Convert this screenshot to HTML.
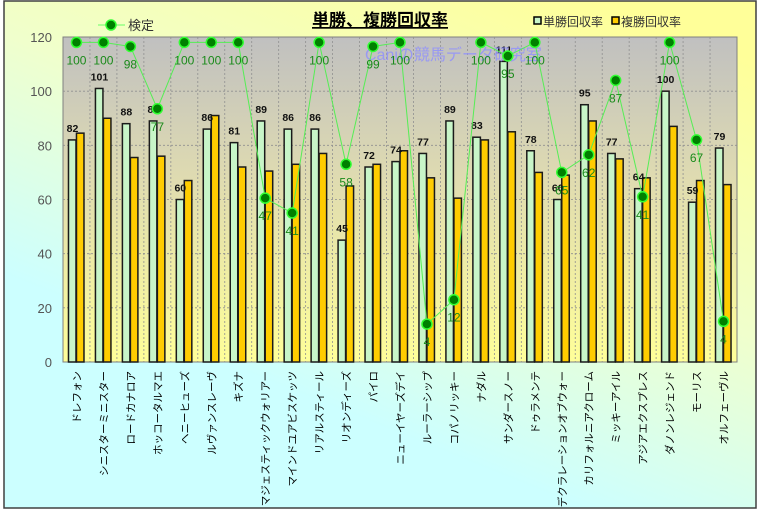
<!DOCTYPE html>
<html><head><meta charset="utf-8"><style>
html,body{margin:0;padding:0;width:759px;height:509px;overflow:hidden;background:#fff}
svg{display:block}
text{font-family:"Liberation Sans","Noto Sans CJK JP",sans-serif}
</style></head><body>
<svg id="s" width="759" height="509" xmlns="http://www.w3.org/2000/svg">
<defs>
<linearGradient id="bg" x1="0.8" y1="0" x2="0.2" y2="1">
<stop offset="0" stop-color="#ffff99"/><stop offset="0.4" stop-color="#f0ffcc"/><stop offset="0.75" stop-color="#ccffff"/><stop offset="1" stop-color="#ccffff"/>
</linearGradient>
<linearGradient id="pa" x1="0" y1="0" x2="0" y2="1">
<stop offset="0" stop-color="#c0c0c0"/><stop offset="0.45" stop-color="#e0dcb0"/><stop offset="1" stop-color="#ffff99"/>
</linearGradient>
</defs>
<rect x="0" y="0" width="759" height="509" fill="#fff"/>
<rect x="4" y="1" width="752" height="507" fill="url(#bg)" stroke="#404040" stroke-width="1.5"/>
<rect x="63" y="37" width="674" height="325" fill="url(#pa)" stroke="#808080"/>
<g id="g"></g>
<text x="380" y="26" text-anchor="middle" font-size="17" font-weight="bold" fill="#000" text-decoration="underline">単勝、複勝回収率</text>
<line x1="98" y1="25" x2="125" y2="25" stroke="#66ff66" stroke-width="1"/>
<circle cx="111" cy="25" r="5" fill="#008000" stroke="#33ff33" stroke-width="1.5"/>
<text x="128" y="30" font-size="13" fill="#333">検定</text>
<rect x="534" y="17" width="7" height="7" fill="#c8f5c8" stroke="#000" stroke-width="1.5"/>
<text x="543" y="26" font-size="12" fill="#333">単勝回収率</text>
<rect x="612" y="17" width="7" height="7" fill="#ffcc00" stroke="#000" stroke-width="1.5"/>
<text x="621" y="26" font-size="12" fill="#333">複勝回収率</text>
</svg>
<script>
var names=["ドレフォン","シニスターミニスター","ロードカナロア","ホッコータルマエ","ヘニーヒューズ","ルヴァンスレーヴ","キズナ","マジェスティックウォリアー","マインドユアビスケッツ","リアルスティール","リオンディーズ","パイロ","ニューイヤーズデイ","ルーラーシップ","コパノリッキー","ナダル","サンダースノー","ドゥラメンテ","デクラレーションオブウォー","カリフォルニアクローム","ミッキーアイル","アジアエクスプレス","ダノンレジェンド","モーリス","オルフェーヴル"];
var a=[82,101,88,89,60,86,81,89,86,86,45,72,74,77,89,83,111,78,60,95,77,64,100,59,79];
var b=[84.5,90,75.5,76,67,91,72,70.5,73,77,65,73,78,68,60.5,82,85,70,69,89,75,68,87,67,65.5];
var lv=[118,118,116.5,93.5,118,118,118,60.5,55,118,73,116.5,118,14,23,118,113,118,70,76.5,104,61,118,82,15];
var ll=["100","100","98","77","100","100","100","47","41","100","58","99","100","4","12","100","95","100","65","62","87","41","100","67","4"];
var X0=63,W=674/25,Y=function(v){return 362-v*325/120;};
var h='';
for(var i=1;i<25;i++){var x=X0+i*W;h+='<line x1="'+x+'" y1="37" x2="'+x+'" y2="362" stroke="#909090" stroke-dasharray="2,2" stroke-width="0.8"/>';}
for(var v=20;v<120;v+=20){h+='<line x1="63" y1="'+Y(v)+'" x2="737" y2="'+Y(v)+'" stroke="#909090" stroke-dasharray="2,2" stroke-width="0.8"/>';}
for(var v=0;v<=120;v+=20){h+='<text x="52" y="'+(Y(v)+5)+'" text-anchor="end" font-size="13" fill="#555">'+v+'</text>';}
for(var i=0;i<25;i++){var c=X0+W*i+W/2;
h+='<rect x="'+(c-8)+'" y="'+Y(a[i])+'" width="7.5" height="'+(362-Y(a[i]))+'" fill="#c8f5c8" stroke="#1a1a1a" stroke-width="1.5"/>';
h+='<rect x="'+c+'" y="'+Y(b[i])+'" width="7.5" height="'+(362-Y(b[i]))+'" fill="#ffcc00" stroke="#1a1a1a" stroke-width="1.5"/>';
h+='<text x="'+(c-4)+'" y="'+(Y(a[i])-8)+'" text-anchor="middle" font-size="10.5" font-weight="bold" fill="#111">'+a[i]+'</text>';
h+='<text transform="translate('+(c+4)+',371) rotate(-90)" text-anchor="end" font-size="10.5" fill="#000">'+names[i]+'</text>';}
h+='<text x="365" y="60" font-size="16" fill="#8f8fff" fill-opacity="0.8">Caniの競馬データ研究室</text>';
var p='';for(var i=0;i<25;i++){p+=(X0+W*i+W/2)+','+Y(lv[i])+' ';}
h+='<polyline points="'+p+'" fill="none" stroke="#55ee55" stroke-width="1"/>';
for(var i=0;i<25;i++){var c=X0+W*i+W/2;h+='<circle cx="'+c+'" cy="'+Y(lv[i])+'" r="5" fill="#008000" stroke="#33ff33" stroke-width="1.5"/>';
h+='<text x="'+c+'" y="'+(Y(lv[i])+22)+'" text-anchor="middle" font-size="12" fill="#1a8a1a">'+ll[i]+'</text>';}
document.getElementById('g').innerHTML=h;
</script>
</body></html>
